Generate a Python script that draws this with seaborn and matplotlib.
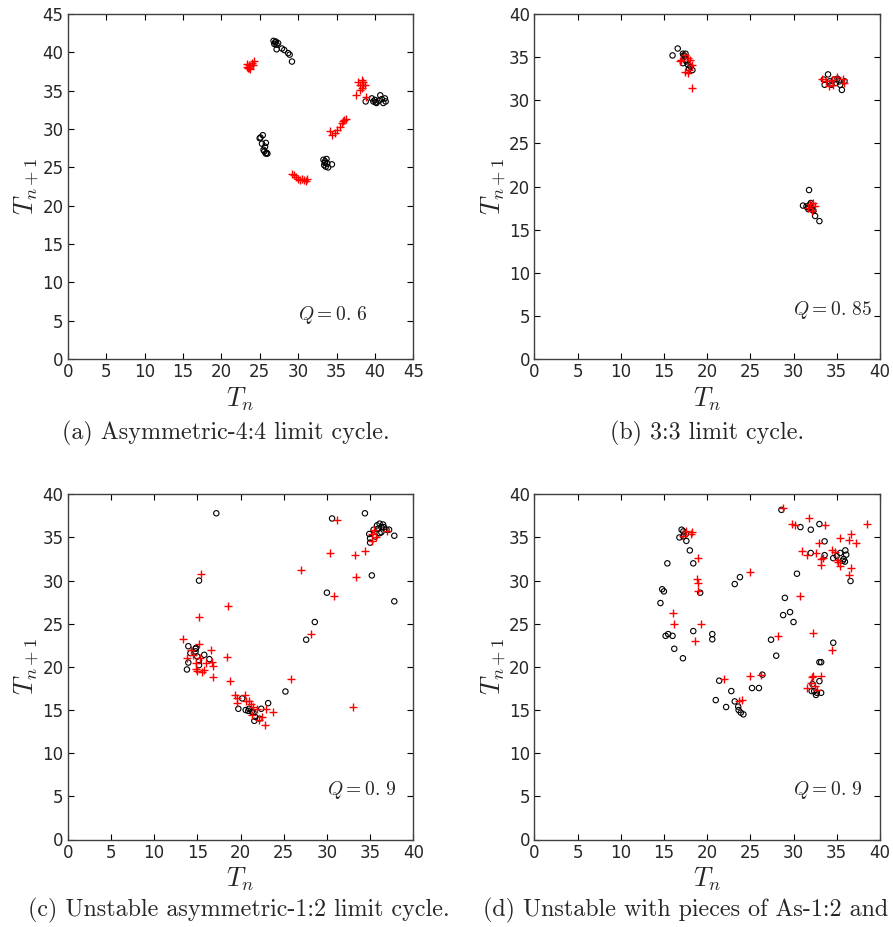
import matplotlib
matplotlib.use("Agg")
import matplotlib.pyplot as plt
import seaborn as sns
import pandas as pd

# ---------------- data ----------------
# Panel (a) Q = 0.6
a_circ_x = [26.8, 27.0, 27.2, 27.4, 27.1, 26.9, 27.2, 27.9, 28.2, 28.7, 28.9, 29.2,
            25.0, 25.1, 25.4, 25.3, 25.8, 25.7, 25.5, 25.6, 25.9, 26.0, 25.8,
            33.3, 33.5, 33.7, 33.4, 33.6, 33.9, 34.4, 33.8, 33.5,
            38.8, 39.6, 39.8, 40.0, 40.2, 40.5, 40.7, 40.9, 41.1, 41.3, 41.4, 40.1]
a_circ_y = [41.5, 41.3, 41.0, 41.2, 41.4, 41.1, 40.4, 40.5, 40.3, 39.9, 39.7, 38.8,
            28.8, 28.9, 29.2, 28.1, 28.2, 27.7, 27.3, 27.1, 26.9, 26.8, 26.8,
            26.0, 25.8, 26.1, 25.3, 25.1, 25.0, 25.4, 25.5, 25.6,
            33.6, 34.0, 33.6, 33.8, 33.4, 33.7, 34.4, 33.9, 33.4, 34.0, 33.6, 33.5]
a_plus_x = [23.3, 23.5, 23.6, 23.7, 23.4, 24.0, 24.2, 23.8, 23.6, 24.1,
            29.2, 29.5, 29.7, 30.0, 30.5, 30.8, 31.1, 31.0, 30.3,
            34.2, 34.4, 34.8, 35.1, 35.4, 35.7, 36.0, 36.3, 35.8,
            37.6, 38.0, 38.3, 37.8, 38.3, 38.5, 38.7, 38.1, 38.9, 38.4]
a_plus_y = [38.1, 37.9, 38.3, 37.8, 38.5, 38.6, 38.9, 38.2, 38.0, 38.4,
            24.2, 24.0, 23.8, 23.5, 23.5, 23.4, 23.5, 23.2, 23.4,
            29.7, 29.2, 29.5, 29.9, 30.3, 30.8, 31.2, 31.3, 31.0,
            34.4, 35.1, 35.4, 36.2, 36.4, 35.8, 35.7, 35.7, 34.2, 36.1]

# Panel (b) Q = 0.85
b_circ_x = [16.0, 16.6, 17.2, 17.4, 17.5, 17.2, 17.6, 17.8, 18.1, 18.3, 17.9, 17.3, 17.5,
            33.6, 34.0, 34.2, 34.4, 34.7, 34.9, 35.1, 35.3, 35.6, 35.9, 33.5, 35.4,
            31.1, 31.8, 31.5, 31.7, 31.9, 32.1, 32.3, 32.5, 33.0, 32.0, 32.2, 31.7]
b_circ_y = [35.2, 36.0, 35.4, 35.1, 34.7, 34.3, 34.5, 34.1, 33.9, 33.5, 33.7, 35.2, 35.4,
            31.8, 33.0, 32.2, 31.8, 32.4, 32.0, 32.5, 32.2, 31.2, 32.2, 32.4, 31.8,
            17.8, 19.6, 17.7, 17.4, 17.9, 17.5, 17.2, 16.6, 16.0, 18.1, 17.3, 17.6]
b_plus_x = [17.0, 17.4, 17.8, 18.0, 17.4, 17.8, 18.2, 18.2, 16.9, 17.9,
            33.3, 33.8, 34.1, 34.5, 35.0, 35.7, 35.8, 34.6,
            31.9, 32.3, 32.5, 32.1, 31.7]
b_plus_y = [34.7, 35.3, 34.9, 34.7, 33.3, 33.2, 34.1, 31.4, 34.5, 33.5,
            32.5, 32.2, 31.7, 32.4, 32.7, 32.5, 32.0, 31.8,
            18.0, 18.1, 17.7, 17.2, 17.5]

# Panel (c) Q = 0.9
c_circ_x = [17.2, 15.2, 13.8, 13.96, 13.96, 14.2, 14.8, 14.85, 14.8, 15.0, 15.2, 15.2, 15.8, 16.4,
            19.75, 20.2, 20.6, 20.9, 21.0, 21.3, 21.5, 21.7, 21.6, 22.2, 22.4, 23.2,
            25.2, 27.6, 28.6, 30.0, 30.6, 34.4, 35.2, 37.8, 37.8,
            34.9, 35.0, 35.0, 35.4, 35.6, 35.8, 35.9, 36.1, 36.3, 36.5, 36.6, 36.9, 36.3, 37.2, 36.1]
c_circ_y = [37.8, 30.0, 19.7, 20.5, 22.4, 21.6, 22.1, 22.2, 21.8, 21.2, 20.7, 20.2, 21.4, 20.9,
            15.15, 16.35, 15.0, 14.9, 15.15, 14.8, 14.7, 14.2, 13.75, 14.0, 15.15, 15.8,
            17.15, 23.15, 25.2, 28.6, 37.2, 37.8, 30.6, 35.2, 27.6,
            35.4, 34.9, 34.4, 35.9, 35.1, 36.4, 36.0, 36.6, 35.6, 36.5, 36.2, 35.9, 36.2, 35.9, 35.5]
c_plus_x = [13.4, 13.8, 14.25, 14.5, 15.2, 15.2, 15.4, 14.85, 15.0, 14.9, 15.3, 15.6, 15.8, 16.0,
            16.6, 16.75, 16.8, 16.8, 18.4, 18.6, 18.8,
            19.4, 19.55, 19.6, 20.5, 20.6, 21.0, 21.2, 21.5, 21.3, 21.9, 22.1, 22.5, 22.8, 23.0, 23.8,
            25.8, 27.0, 28.2, 30.4, 30.8, 31.2, 33.2, 33.4, 33.0, 34.4, 35.2, 35.4, 35.7, 36.9, 35.2]
c_plus_y = [23.2, 21.0, 22.0, 21.4, 22.6, 25.8, 30.8, 19.7, 19.55, 20.4, 21.0, 19.4, 19.6, 20.4,
            22.0, 20.6, 20.1, 18.8, 21.2, 27.0, 18.4,
            16.7, 16.35, 15.8, 16.8, 16.0, 16.1, 15.65, 15.3, 14.4, 15.1, 13.9, 14.2, 13.3, 15.15, 14.8,
            18.55, 31.2, 23.8, 33.2, 28.2, 37.0, 33.0, 30.4, 15.35, 33.4, 34.6, 35.9, 35.1, 35.8, 35.4]

# Panel (d) Q = 0.9
d_circ_x = [17.05, 17.25, 16.8, 17.25, 17.55, 17.6, 18.0, 18.4, 15.4, 14.8, 15.0, 14.6, 19.2,
            15.2, 15.5, 16.0, 16.2, 17.2, 18.4, 20.6, 20.6,
            21.4, 21.0, 22.2, 22.8, 23.2, 23.6, 23.65, 23.9, 24.2, 25.2, 26.0, 26.4,
            23.2, 23.8, 27.4, 28.0, 28.8, 29.0, 29.6, 30.0, 30.4,
            28.6, 30.8, 32.0, 32.0, 33.0, 33.6, 33.6, 34.6, 35.0, 35.4, 35.8, 36.0, 35.95, 36.1, 36.6, 35.7,
            34.6, 33.0, 33.2, 33.0, 32.2, 32.1, 32.4, 32.7, 32.6, 33.2]
d_circ_y = [35.9, 35.7, 35.0, 35.1, 35.4, 34.6, 33.5, 32.0, 32.0, 29.0, 28.75, 27.4, 28.6,
            23.6, 23.8, 23.6, 22.1, 21.0, 24.15, 23.8, 23.2,
            18.4, 16.15, 15.35, 17.2, 16.0, 15.4, 15.0, 14.7, 14.5, 17.55, 17.55, 19.1,
            29.6, 30.4, 23.15, 21.3, 26.0, 28.0, 26.35, 25.2, 30.8,
            38.2, 36.2, 35.9, 33.2, 36.55, 34.55, 32.95, 32.6, 32.85, 33.2, 32.5, 33.5, 32.2, 33.0, 29.95, 32.3,
            22.8, 20.55, 20.55, 18.35, 18.0, 17.2, 17.2, 17.0, 16.75, 17.0]
d_plus_x = [17.6, 18.1, 18.3, 17.25, 19.0, 18.8, 19.0, 19.0, 16.0, 16.2, 19.25, 18.6,
            22.0, 23.65, 24.0, 25.0, 25.0, 26.2, 28.2,
            28.8, 29.8, 30.2, 30.8, 31.0, 31.6, 31.8, 32.6, 33.0, 33.2, 33.2, 33.4, 33.6,
            34.4, 34.8, 35.0, 35.2, 35.4, 35.4, 36.45, 36.65, 36.65, 36.45, 37.2, 38.45,
            32.2, 34.4, 32.2, 33.2, 31.6, 32.0, 32.5, 32.7, 32.1]
d_plus_y = [35.8, 35.4, 35.6, 35.2, 32.6, 30.2, 29.75, 28.8, 26.2, 25.0, 25.0, 22.95,
            18.55, 16.1, 16.2, 30.95, 19.0, 19.1, 23.6,
            38.4, 36.6, 36.5, 28.2, 33.4, 33.0, 37.2, 33.2, 34.4, 32.45, 31.8, 32.6, 36.4,
            33.55, 33.35, 32.4, 32.1, 31.7, 34.9, 34.75, 35.4, 31.5, 30.7, 34.35, 36.55,
            23.95, 21.95, 18.95, 18.95, 17.55, 18.15, 17.8, 17.3, 18.85]

q_labels = ["$Q=0.\\,6$", "$Q=0.\\,85$", "$Q=0.\\,9$", "$Q=0.\\,9$"]
captions = ["(a) Asymmetric-4:4 limit cycle.", "(b) 3:3 limit cycle.",
            "(c) Unstable asymmetric-1:2 limit cycle.", "(d) Unstable with pieces of As-1:2 and"]
axis_max = [45, 40, 40, 40]

# ---------------- style ----------------
sns.set_theme(style="ticks")
plt.rcParams["font.family"] = ["DejaVu Sans"]
plt.rcParams["mathtext.fontset"] = "cm"

fig = plt.figure(figsize=(8.93, 9.27), dpi=100)
W, H = 893.0, 927.0
boxes = [(67.7, 14.0), (534.3, 14.0), (67.7, 494.3), (534.3, 494.3)]
aw, ah = 345.6, 345.2

panels = [
    (a_circ_x, a_circ_y, a_plus_x, a_plus_y),
    (b_circ_x, b_circ_y, b_plus_x, b_plus_y),
    (c_circ_x, c_circ_y, c_plus_x, c_plus_y),
    (d_circ_x, d_circ_y, d_plus_x, d_plus_y),
]
q_pos = [(0.666, 0.128), (0.749, 0.143), (0.749, 0.143), (0.749, 0.143)]

for i, (cx, cy, px, py) in enumerate(panels):
    left, top = boxes[i]
    ax = fig.add_axes([left / W, 1 - (top + ah) / H, aw / W, ah / H])
    dc = pd.DataFrame({"Tn": cx, "Tn1": cy})
    dp = pd.DataFrame({"Tn": px, "Tn1": py})
    sns.scatterplot(data=dc, x="Tn", y="Tn1", ax=ax, marker="o", s=15,
                    facecolor="none", edgecolor="black", linewidth=0.8, zorder=3)
    sns.scatterplot(data=dp, x="Tn", y="Tn1", ax=ax, marker="+", s=40,
                    color="red", linewidth=1.0, zorder=4)
    m = axis_max[i]
    ax.set_xlim(0, m)
    ax.set_ylim(0, m)
    ax.set_xticks(range(0, m + 1, 5))
    ax.set_yticks(range(0, m + 1, 5))
    ax.tick_params(direction="in", top=True, right=True, length=4.5, width=0.8,
                   labelsize=12, pad=3, color="black")
    for sp in ax.spines.values():
        sp.set_color("0.25")
        sp.set_linewidth(1.0)
    ax.set_xlabel("$T_n$", fontsize=19, labelpad=3)
    ax.set_ylabel("$T_{n+1}$", fontsize=19, labelpad=1)
    ax.text(q_pos[i][0], q_pos[i][1], q_labels[i], transform=ax.transAxes,
            fontsize=14, ha="left", va="center")

cap_y_top = 1 - 433 / H
cap_y_bot = 1 - 910 / H
cap_fs = 17.3
fig.text(226 / W, cap_y_top, captions[0], family="cmr10", fontsize=cap_fs, ha="center", va="center")
fig.text(707 / W, cap_y_top, captions[1], family="cmr10", fontsize=cap_fs, ha="center", va="center")
fig.text(238.5 / W, cap_y_bot, captions[2], family="cmr10", fontsize=cap_fs, ha="center", va="center")
fig.text(483 / W, cap_y_bot, captions[3], family="cmr10", fontsize=cap_fs, ha="left", va="center")

fig.savefig("out.png", dpi=100)
